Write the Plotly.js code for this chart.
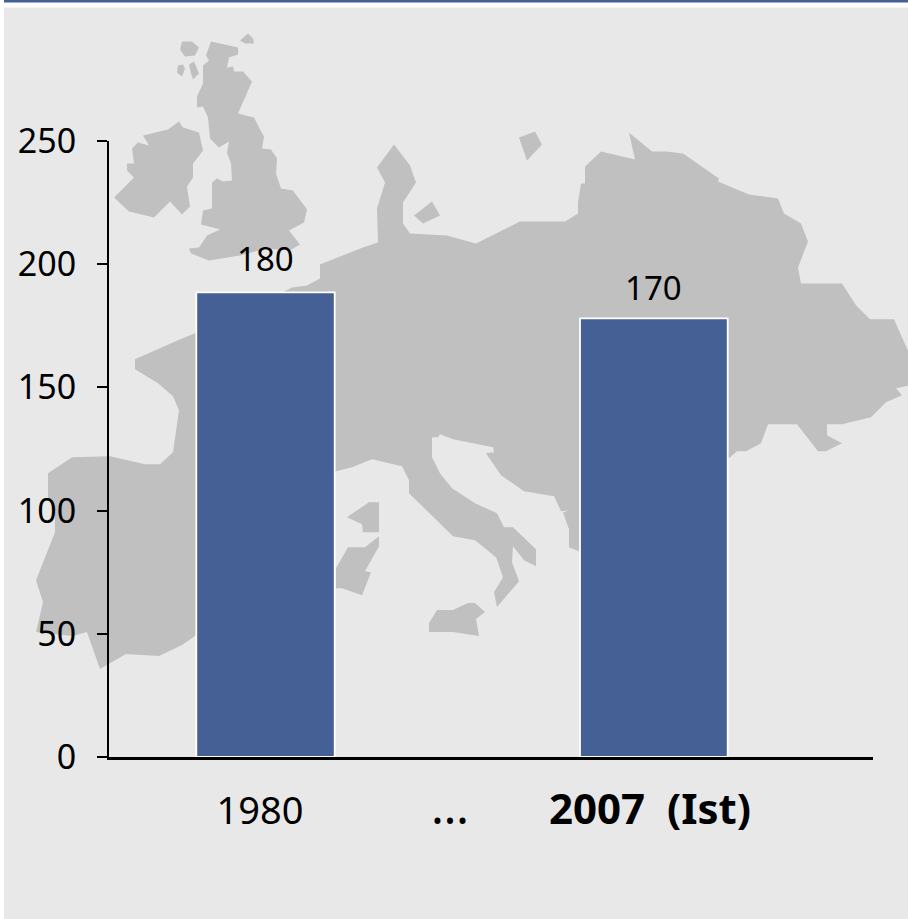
<!DOCTYPE html>
<html>
<head>
<meta charset="utf-8">
<script src="https://cdn.plot.ly/plotly-3.0.1.min.js"></script>
<style>html,body{margin:0;padding:0;background:#fff;overflow:hidden}#chart{width:908px;height:919px}</style>
</head>
<body>
<div id="chart"></div>
<script>
// ---- data ----
const categories = ["1980", '<span style="font-size:48px">…</span>', '<b><span style="font-size:42px">2007\u00a0\u00a0(Ist)</span></b>'];
const categoryPos = [0, 0.974, 2];
const barX = [0, 2];
const barHeights = [188.6, 178];
const barLabels = ["180", "170"];
const labelShift = [9, 6];
const yTicks = [0, 50, 100, 150, 200, 250];

// ---- decorative map backdrop, page pixels ----
const mapContinent = [[394,144],[410,165],[416,182],[403,202],[403,223],[410,233],[447,235],[454,237],[476,243],[520,221],[565,221],[578,213],[578,202],[581,183],[585,183],[585,166],[601,151],[631,158],[635,159],[629,132],[652,151],[667,151],[683,153],[719,178],[718,181],[749,194],[778,198],[784,213],[801,223],[808,241],[798,267],[801,283],[842,283],[856,305],[870,319],[894,319],[910,355],[910,385],[896,388],[902,395],[886,402],[871,417],[842,424],[827,424],[827,435],[842,443],[826,451],[818,451],[797,424],[768,424],[761,443],[746,451],[737,451],[730,457],[700,480],[579,551],[569,547],[569,529],[563,512],[570,510],[561,511],[554,496],[524,491],[501,475],[486,453],[494,452],[493,447],[453,439],[440,434],[438,437],[432,437],[432,457],[440,473],[452,488],[475,503],[497,513],[504,527],[513,527],[536,549],[536,566],[524,560],[513,546],[512,562],[519,581],[497,607],[494,592],[503,577],[496,557],[475,540],[453,536],[409,493],[409,480],[402,466],[372,459],[352,467],[336,471],[300,500],[195,636],[182,645],[159,656],[126,654],[100,669],[87,632],[73,636],[36,632],[43,602],[36,580],[55,532],[55,513],[48,497],[48,473],[72,457],[110,456],[145,464],[160,464],[173,452],[179,410],[173,396],[158,383],[135,369],[135,359],[178,340],[195,333],[282,292],[292,287],[307,285],[320,278],[320,264],[363,247],[378,242],[377,208],[385,182],[377,167]];
const mapBritain = [[211,41],[238,47],[238,54],[229,57],[227,67],[233,66],[234,71],[243,71],[252,81],[238,113],[254,117],[259,127],[264,136],[262,148],[271,149],[277,158],[276,173],[281,188],[293,190],[307,209],[304,222],[289,230],[300,244],[290,250],[267,248],[240,255],[209,260],[191,253],[189,248],[199,247],[207,235],[220,229],[201,224],[203,210],[212,208],[212,182],[217,178],[223,181],[232,180],[231,163],[227,152],[229,141],[219,147],[210,138],[208,117],[203,106],[197,107],[197,96],[203,83],[203,65],[209,60],[206,55]];
const mapIreland = [[143,135],[168,129],[179,121],[183,127],[199,132],[203,150],[193,163],[193,177],[187,186],[190,206],[182,214],[170,201],[154,217],[129,211],[114,197],[134,177],[127,170],[127,163],[134,163],[132,148],[138,142],[149,145]];
const mapIslands = [
  [[240,40],[248,33],[253,38],[254,43],[245,43]],
  [[182,41],[192,41],[199,47],[195,55],[185,56],[180,49]],
  [[178,65],[183,64],[185,68],[182,76],[177,72]],
  [[189,64],[194,61],[199,73],[193,79],[191,73]],
  [[414,215],[432,201],[440,215],[423,223]],
  [[519,137],[535,131],[542,144],[527,160]],
  [[347,517],[369,502],[379,502],[379,532],[363,532],[362,524]],
  [[336,568],[348,547],[365,547],[379,536],[379,546],[365,571],[371,572],[362,595],[342,588],[336,588]],
  [[429,623],[437,610],[453,610],[468,603],[475,603],[485,612],[476,619],[479,636],[453,632],[429,632]]
];

// ---- layout geometry ----
const W = 908, H = 919;
const M = {l: 109, r: 35, t: 140.5, b: 162};
const pw = W - M.l - M.r, ph = H - M.t - M.b;
const fx = px => (px - M.l) / pw;
const fy = py => 1 - (py - M.t) / ph;
const toPath = pts => pts.map((p, i) => (i ? "L" : "M") + fx(p[0]) + "," + fy(p[1])).join(" ") + " Z";
const rect = (x0, y0, x1, y1, color) => ({type: "rect", xref: "paper", yref: "paper", layer: "below",
  x0: fx(x0), x1: fx(x1), y0: fy(y0), y1: fy(y1), fillcolor: color, line: {width: 0}});
const land = pts => ({type: "path", xref: "paper", yref: "paper", layer: "below",
  path: toPath(pts), fillcolor: "#c0c0c0", line: {width: 0}});

const BLUE = "#446094";
const FONT = '"Noto Sans", sans-serif';
const unit = 195; // pixels per x unit
const barOffset = [(196.3 - 260) / unit, (580 - 650) / unit];
const barWidth = [(334.7 - 196.3) / unit, (727.7 - 580) / unit];

const trace = {
  type: "bar",
  x: barX,
  y: barHeights,
  offset: barOffset,
  width: barWidth,
  marker: {color: BLUE, line: {color: "#ffffff", width: 1.8}},
  hoverinfo: "skip"
};

const layout = {
  width: W, height: H,
  margin: {l: M.l, r: M.r, t: M.t, b: M.b, pad: 0},
  paper_bgcolor: "#ffffff",
  plot_bgcolor: "rgba(0,0,0,0)",
  showlegend: false,
  font: {family: FONT, color: "#000000"},
  xaxis: {
    type: "linear",
    range: [(109 - 260) / unit, (873 - 260) / unit],
    tickmode: "array", tickvals: categoryPos, ticktext: categories,
    ticks: "", showgrid: false, zeroline: false,
    showline: true, linecolor: "#000000", linewidth: 2.5,
    tickfont: {family: FONT, size: 38, color: "#000000"},
    ticklabelstandoff: 19
  },
  yaxis: {
    range: [0, 250],
    tickmode: "array", tickvals: yTicks,
    ticks: "outside", ticklen: 10, tickwidth: 2, tickcolor: "#000000",
    showgrid: false, zeroline: false,
    showline: true, linecolor: "#000000", linewidth: 2,
    tickfont: {family: FONT, size: 34, color: "#000000"},
    ticklabelstandoff: 14
  },
  shapes: [
    rect(4, -6, W + 10, 2, BLUE),
    rect(4, 7, W + 10, H + 10, "#e8e8e8"),
    land(mapContinent), land(mapBritain), land(mapIreland)
  ].concat(mapIslands.map(land)),
  annotations: barX.map((x, i) => ({
    x: x + barOffset[i] + barWidth[i] / 2,
    y: barHeights[i],
    xref: "x", yref: "y",
    text: barLabels[i],
    showarrow: false,
    xanchor: "center", yanchor: "bottom",
    yshift: labelShift[i],
    font: {family: FONT, size: 33, color: "#000000"}
  }))
};

Plotly.newPlot("chart", [trace], layout, {displayModeBar: false, staticPlot: true});
</script>
</body>
</html>
